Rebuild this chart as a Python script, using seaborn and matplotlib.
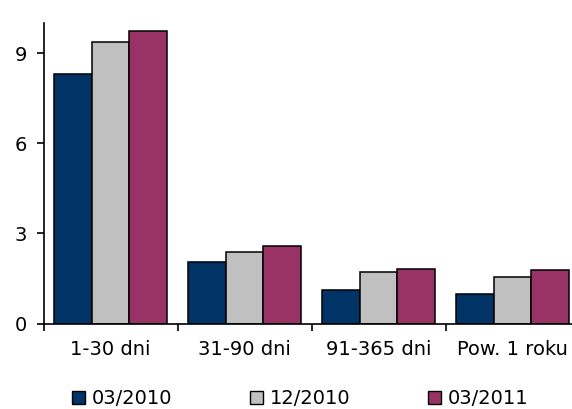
import numpy as np
import pandas as pd
import matplotlib
matplotlib.use("Agg")
import matplotlib.pyplot as plt
import seaborn as sns

categories = ["1-30 dni", "31-90 dni", "91-365 dni", "Pow. 1 roku"]
series_names = ["03/2010", "12/2010", "03/2011"]
v_03_2010 = [8.32, 2.04, 1.11, 0.98]
v_12_2010 = [9.39, 2.38, 1.71, 1.56]
v_03_2011 = [9.73, 2.59, 1.83, 1.78]
colors = ["#003366", "#C0C0C0", "#993366"]

df = pd.DataFrame({
    "kategoria": categories * 3,
    "okres": np.repeat(series_names, len(categories)),
    "wartosc": v_03_2010 + v_12_2010 + v_03_2011,
})

sns.set_style("white")
plt.rcParams["font.family"] = ["DejaVu Sans"]
plt.rcParams["text.color"] = "black"
plt.rcParams["xtick.color"] = "black"
plt.rcParams["ytick.color"] = "black"

fig = plt.figure(figsize=(5.72, 4.09), dpi=100)
ax = fig.add_axes([43.5 / 572, 85.5 / 409, 536 / 572, 300.2 / 409])

sns.barplot(data=df, x="kategoria", y="wartosc", hue="okres", order=categories,
            hue_order=series_names, palette=colors, width=0.85,
            edgecolor="black", linewidth=1.1, saturation=1, ax=ax, legend=False)

ax.set_xlim(-0.5, 3.5)
ax.set_ylim(0, 10)
ax.set_yticks([0, 3, 6, 9])
ax.set_xlabel("")
ax.set_ylabel("")
ax.set_xticks(range(len(categories)))
ax.set_xticklabels(categories)
ax.set_xticks(np.arange(-0.5, 3.6, 1), minor=True)
ax.tick_params(axis="x", which="major", bottom=True, length=0, pad=12, labelsize=14)
ax.tick_params(axis="x", which="minor", bottom=True, length=5, width=1.2, direction="out")
ax.tick_params(axis="y", left=True, length=5, width=1.2, direction="out", labelsize=14, pad=7)
sns.despine(ax=ax)
for s in ["left", "bottom"]:
    ax.spines[s].set_color("black")
    ax.spines[s].set_linewidth(1.2)

handles = [plt.Rectangle((0, 0), 1, 1, facecolor=c, edgecolor="black", linewidth=1) for c in colors]
fig.legend(handles, series_names, loc="center left", bbox_to_anchor=(72 / 572, 1 - 399 / 409),
           ncol=3, frameon=False, fontsize=14, handlelength=0.67, handleheight=0.67,
           handletextpad=0.35, columnspacing=4.0, borderpad=0, borderaxespad=0)

fig.savefig("out.png", dpi=100)
